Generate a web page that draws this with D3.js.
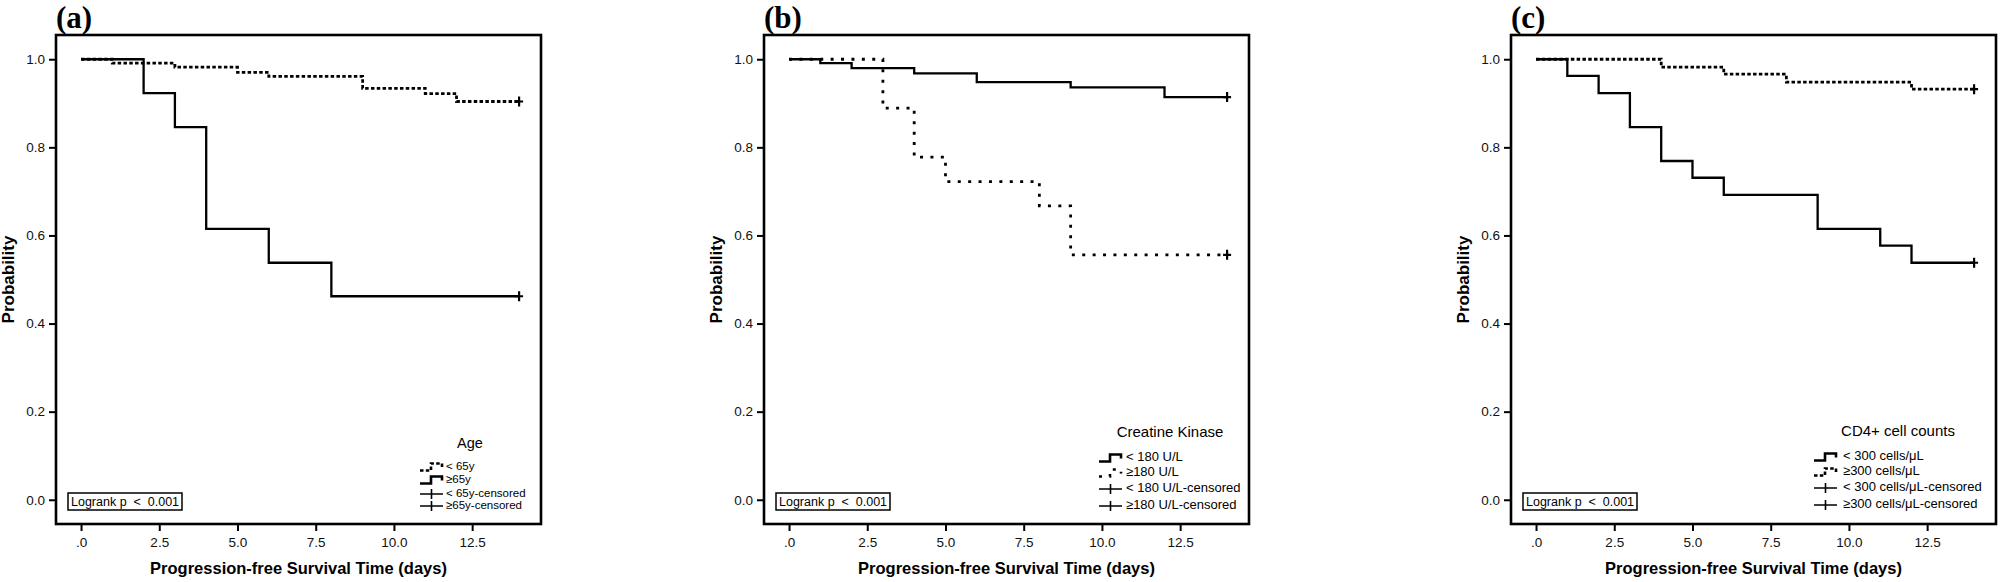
<!DOCTYPE html>
<html>
<head>
<meta charset="utf-8">
<script src="https://cdn.jsdelivr.net/npm/d3@7"></script>
<style>
  body { margin: 0; background: #fff; }
  svg { display: block; font-family: "Liberation Sans", Arial, sans-serif; }
</style>
</head>
<body>
<svg id="chart" width="2000" height="582"></svg>
<script>
// data
const panelLabels = ['(a)', '(b)', '(c)']
const legendTitles = ['Age', 'Creatine Kinase', 'CD4+ cell counts']
const xTicks = [0, 2.5, 5, 7.5, 10, 12.5]
const xTickLabels = ['.0', '2.5', '5.0', '7.5', '10.0', '12.5']
const yTicks = [0, 0.2, 0.4, 0.6, 0.8, 1.0]
const yTickLabels = ['0.0', '0.2', '0.4', '0.6', '0.8', '1.0']
const logrankText = 'Logrank p  <  0.001'

// (a) age
const ageLowTimes = [0, 1, 3, 5, 6, 9, 11, 12, 14]
const ageLowSurv = [1, 0.991, 0.982, 0.970, 0.961, 0.934, 0.922, 0.904, 0.904]
const ageHighTimes = [0, 2, 3, 4, 6, 8, 14]
const ageHighSurv = [1, 0.923, 0.846, 0.615, 0.538, 0.462, 0.462]
const ageLegend = ['< 65y', '\u226565y', '< 65y-censored', '\u226565y-censored']

// (b) creatine kinase
const ckLowTimes = [0, 1, 2, 4, 6, 9, 12, 14]
const ckLowSurv = [1, 0.991, 0.980, 0.968, 0.948, 0.936, 0.914, 0.914]
const ckHighTimes = [0, 3, 4, 5, 8, 9, 14]
const ckHighSurv = [1, 0.889, 0.778, 0.722, 0.667, 0.556, 0.556]
const ckLegend = ['< 180 U/L', '\u2265180 U/L', '< 180 U/L-censored', '\u2265180 U/L-censored']

// (c) CD4+ cell counts
const cd4LowTimes = [0, 1, 2, 3, 4, 5, 6, 9, 11, 12, 14]
const cd4LowSurv = [1, 0.962, 0.923, 0.846, 0.769, 0.731, 0.692, 0.615, 0.577, 0.538, 0.538]
const cd4HighTimes = [0, 4, 6, 8, 12, 14]
const cd4HighSurv = [1, 0.982, 0.966, 0.948, 0.932, 0.932]
const cd4Legend = ['< 300 cells/\u03bcL', '\u2265300 cells/\u03bcL', '< 300 cells/\u03bcL-censored', '\u2265300 cells/\u03bcL-censored']

// layout (not data)
const W = 485
const plotTop = 35
const plotBottom = 524
const panels = [
    {left: 56, series: [[ageLowTimes, ageLowSurv, 'dot'], [ageHighTimes, ageHighSurv, 'solid']], legend: ageLegend,
        dash: '3.5,2.3', lg: {sym: -121, txt: -95, title: -71, titleY: 444, rows: [467, 480, 494, 506], font: 11.5, titleFont: 14.5}},
    {left: 764, series: [[ckLowTimes, ckLowSurv, 'solid'], [ckHighTimes, ckHighSurv, 'dot']], legend: ckLegend,
        dash: '3,7.4', lg: {sym: -150, txt: -123, title: -79, titleY: 433, rows: [458, 473, 489, 506], font: 13, titleFont: 15}},
    {left: 1511, series: [[cd4LowTimes, cd4LowSurv, 'solid'], [cd4HighTimes, cd4HighSurv, 'dot']], legend: cd4Legend,
        dash: '3.5,2.3', lg: {sym: -182, txt: -153, title: -98, titleY: 432, rows: [457, 472, 488, 505], font: 13, titleFont: 15}}
]

const svg = d3.select('#chart')

panels.forEach((p, i) => {
    const x = d3.scaleLinear().domain([-0.8, 14.7]).range([p.left, p.left + W])
    const y = d3.scaleLinear().domain([-0.055, 1.055]).range([plotBottom, plotTop])
    const g = svg.append('g')

    // panel label
    g.append('text').attr('x', p.left).attr('y', 28)
        .attr('font-family', '"Liberation Serif", "Times New Roman", serif')
        .attr('font-weight', 700).attr('font-size', 31).text(panelLabels[i])

    // axes
    const yAxis = g.append('g').attr('transform', 'translate(' + p.left + ',0)')
        .call(d3.axisLeft(y).tickValues(yTicks).tickFormat((d, k) => yTickLabels[k]).tickSize(7).tickSizeOuter(0).tickPadding(4))
    const xAxis = g.append('g').attr('transform', 'translate(0,' + plotBottom + ')')
        .call(d3.axisBottom(x).tickValues(xTicks).tickFormat((d, k) => xTickLabels[k]).tickSize(7).tickSizeOuter(0).tickPadding(6))
    ;[yAxis, xAxis].forEach(a => {
        a.select('.domain').remove()
        a.selectAll('line').attr('stroke', '#000').attr('stroke-width', 2)
        a.selectAll('text').attr('font-family', '"Liberation Sans", Arial, sans-serif').attr('font-size', 13.5).attr('fill', '#111')
    })

    // frame
    g.append('rect').attr('x', p.left).attr('y', plotTop).attr('width', W).attr('height', plotBottom - plotTop)
        .attr('fill', 'none').attr('stroke', '#000').attr('stroke-width', 2.6)

    // axis titles
    g.append('text').attr('transform', 'translate(' + (p.left - 46) + ',' + ((plotTop + plotBottom) / 2) + ') rotate(-90)')
        .attr('text-anchor', 'middle').attr('dominant-baseline', 'middle')
        .attr('font-weight', 700).attr('font-size', 17).text('Probability')
    g.append('text').attr('x', p.left + W / 2).attr('y', 574).attr('text-anchor', 'middle')
        .attr('font-weight', 700).attr('font-size', 16.5).text('Progression-free Survival Time (days)')

    // survival curves
    const line = d3.line().x(d => x(d[0])).y(d => y(d[1])).curve(d3.curveStepAfter)
    p.series.forEach(s => {
        const pts = s[0].map((t, k) => [t, s[1][k]])
        g.append('path').datum(pts).attr('d', line)
            .attr('fill', 'none').attr('stroke', '#000').attr('stroke-width', s[2] === 'dot' ? 2.8 : 2.3)
            .attr('stroke-dasharray', s[2] === 'dot' ? p.dash : null)
        // censor mark at last time
        const cx = x(s[0][s[0].length - 1])
        const cy = y(s[1][s[1].length - 1])
        g.append('path').attr('d', 'M' + (cx - 4) + ',' + cy + 'H' + (cx + 4) + 'M' + cx + ',' + (cy - 5) + 'V' + (cy + 5))
            .attr('stroke', '#000').attr('stroke-width', 2.2).attr('fill', 'none')
    })

    // logrank box
    const lb = g.append('g').attr('transform', 'translate(' + (p.left + 12) + ',493)')
    lb.append('rect').attr('width', 114).attr('height', 17).attr('fill', '#fff').attr('stroke', '#000').attr('stroke-width', 1.5)
    lb.append('text').attr('x', 3).attr('y', 13).attr('font-size', 12.5).style('white-space', 'pre').text(logrankText)

    // legend
    const right = p.left + W
    const lg = p.lg
    g.append('text').attr('x', right + lg.title).attr('y', lg.titleY).attr('text-anchor', 'middle')
        .attr('dominant-baseline', 'middle').attr('font-size', lg.titleFont).text(legendTitles[i])
    p.legend.forEach((label, k) => {
        const ry = lg.rows[k]
        const sx = right + lg.sym
        let d
        let dashed = false
        if (k < 2) {
            d = 'M' + sx + ',' + (ry + 3.5) + 'H' + (sx + 11) + 'V' + (ry - 3.5) + 'H' + (sx + 22) + 'V' + (ry + 0.5)
            dashed = p.series[k][2] === 'dot'
        } else {
            d = 'M' + sx + ',' + ry + 'H' + (sx + 23) + 'M' + (sx + 11.5) + ',' + (ry - 5) + 'V' + (ry + 5)
        }
        g.append('path').attr('d', d).attr('fill', 'none').attr('stroke', '#000')
            .attr('stroke-width', k < 2 ? 2.6 : 1.6).attr('stroke-dasharray', dashed ? p.dash : null)
        g.append('text').attr('x', right + lg.txt).attr('y', ry).attr('dominant-baseline', 'middle')
            .attr('font-size', lg.font).text(label)
    })
})
</script>
</body>
</html>
